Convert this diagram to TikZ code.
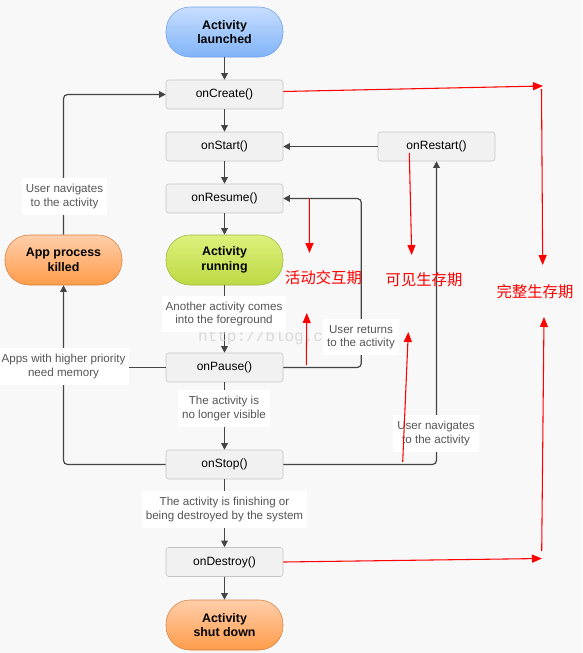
\documentclass[tikz,border=0pt]{standalone}
\usepackage{fontspec}
\setmainfont{Liberation Sans}
\setmonofont{Liberation Mono}
\newfontfamily\cjk{Noto Sans CJK SC}
\usetikzlibrary{arrows.meta,calc}
\definecolor{bgcol}{HTML}{F8F8F8}
\definecolor{boxfill}{HTML}{F1F1F1}
\definecolor{boxline}{HTML}{C4C4C4}
\definecolor{flowcol}{HTML}{444444}
\definecolor{labelcol}{HTML}{555555}
\definecolor{notecol}{HTML}{FF0000}
\definecolor{bluetop}{HTML}{C8DEFF}
\definecolor{bluebot}{HTML}{80B4F8}
\definecolor{blueline}{HTML}{6D9FE8}
\definecolor{greentop}{HTML}{DDF07C}
\definecolor{greenbot}{HTML}{BCDA44}
\definecolor{greenline}{HTML}{9AB83C}
\definecolor{orangetop}{HTML}{FFCEAA}
\definecolor{orangebot}{HTML}{FF9C4A}
\definecolor{orangeline}{HTML}{D5803B}
\tikzset{
	callbox/.style={draw=boxline, fill=boxfill, rounded corners=2pt, minimum width=87.75pt, minimum height=21.75pt, inner sep=0pt, font=\fontsize{9}{10}\selectfont},
	pill/.style={rounded corners=18pt, minimum width=87.75pt, minimum height=37.5pt, inner sep=0pt, align=center, font=\fontsize{9.3}{11}\selectfont\bfseries},
	bluepill/.style={pill, draw=blueline, top color=bluetop, bottom color=bluebot},
	greenpill/.style={pill, draw=greenline, top color=greentop, bottom color=greenbot},
	orangepill/.style={pill, draw=orangeline, top color=orangetop, bottom color=orangebot},
	flowlabel/.style={fill=white, inner xsep=3pt, inner ysep=4.5pt, align=center, text=labelcol, font=\fontsize{8.7}{10}\selectfont},
	flow/.style={draw=flowcol, line width=0.9pt, -{Triangle[length=5pt,width=5pt]}},
	flowline/.style={draw=flowcol, line width=0.9pt},
	note/.style={draw=notecol, line width=0.8pt, -{Triangle[length=7.5pt,width=6pt]}},
	notetext/.style={text=notecol, font=\cjk\fontsize{11.5}{12}\selectfont},
	watermark/.style={text=black!15, font=\ttfamily\fontsize{12}{12}\selectfont}
}

\begin{document}
\begin{tikzpicture}[x=0.75pt, y=-0.75pt]
			%%%%% START %%%%%
			
			\fill[bgcol] (0, 0) rectangle (582, 653);
			\useasboundingbox (0, 0) rectangle (582, 653);
			
			% main column
			\node[bluepill] (launched) at (224.5, 32) {Activity\\launched};
			\node[callbox] (create) at (224.5, 94.5) {onCreate()};
			\node[callbox] (start) at (224.5, 146.5) {onStart()};
			\node[callbox] (resume) at (224.5, 198.5) {onResume()};
			\node[greenpill] (running) at (224.5, 260) {Activity\\running};
			\node[callbox] (pause) at (224.5, 367.5) {onPause()};
			\node[callbox] (stop) at (224.5, 464.5) {onStop()};
			\node[callbox] (destroy) at (224.5, 562) {onDestroy()};
			\node[orangepill] (shutdown) at (224.5, 625) {Activity\\shut down};
			
			% side nodes
			\node[orangepill] (killed) at (63.5, 260) {App process\\killed};
			\node[callbox] (restart) at (436.5, 146.5) {onRestart()};
			
			% connectors
			\draw[flow] (launched) -- (create);
			\draw[flow] (create) -- (start);
			\draw[flow] (start) -- (resume);
			\draw[flow] (resume) -- (running);
			\draw[flow] (running) -- (pause);
			\draw[flow] (pause) -- (stop);
			\draw[flow] (stop) -- (destroy);
			\draw[flow] (destroy) -- (shutdown);
			
			\draw[flow] (restart) -- (start);
			\draw[flow, rounded corners=3pt] (pause.east) -- ++(78, 0) |- (resume.east);
			\draw[flow, rounded corners=3pt] (stop.east) -| (restart.south);
			\draw[flow, rounded corners=3pt] (stop.west) -| (killed.south);
			\draw[flowline] (pause.west) -- (pause.west -| killed.south);
			\draw[flow, rounded corners=3pt] (killed.north) |- (create.west);
			
			\node[watermark] (wm) at (299, 337) {http://blog.csdn.net/};
			
			% labels
			\node[flowlabel] (lforeground) at (224, 314) {Another activity comes\\into the foreground};
			\node[flowlabel] (lvisible) at (224, 408.5) {The activity is\\no longer visible};
			\node[flowlabel] (lfinish) at (224.5, 509.5) {The activity is finishing or\\being destroyed by the system};
			\node[flowlabel] (lnavleft) at (64.5, 196.5) {User navigates\\to the activity};
			\node[flowlabel] (lmemory) at (63.5, 366.5) {Apps with higher priority\\need memory};
			\node[flowlabel] (lreturn) at (361, 337) {User returns\\to the activity};
			\node[flowlabel] (lnavright) at (436, 433.5) {User navigates\\to the activity};
			
			% red notes
			\coordinate (fullA) at (543, 86);
			\coordinate (fullB) at (541.5, 89);
			\coordinate (fullC) at (542.7, 265);
			\coordinate (fullD) at (542, 558.5);
			\coordinate (fullE) at (541.7, 551);
			\coordinate (fullF) at (544, 317);
			\draw[note] ($(create.east)+(0, -3)$) -- (fullA);
			\draw[note] (fullB) -- (fullC);
			\draw[note] (destroy.east) -- (fullD);
			\draw[note] (fullE) -- (fullF);
			\node[notetext] (full) at (535, 292) {完整生存期};
			
			\coordinate (visA) at (409.3, 153);
			\coordinate (visB) at (411.7, 255);
			\coordinate (visC) at (402.7, 462);
			\coordinate (visD) at (408.3, 332);
			\draw[note] (visA) -- (visB);
			\draw[note] (visC) -- (visD);
			\node[notetext] (visible) at (424, 280) {可见生存期};
			
			\coordinate (actA) at (309.3, 198.5);
			\coordinate (actB) at (309.5, 253);
			\coordinate (actC) at (306.3, 365);
			\coordinate (actD) at (306.8, 313);
			\draw[note] (actA) -- (actB);
			\draw[note] (actC) -- (actD);
			\node[notetext] (active) at (323.5, 278) {活动交互期};
			
			%%%%% END %%%%%
		\end{tikzpicture}
\end{document}
